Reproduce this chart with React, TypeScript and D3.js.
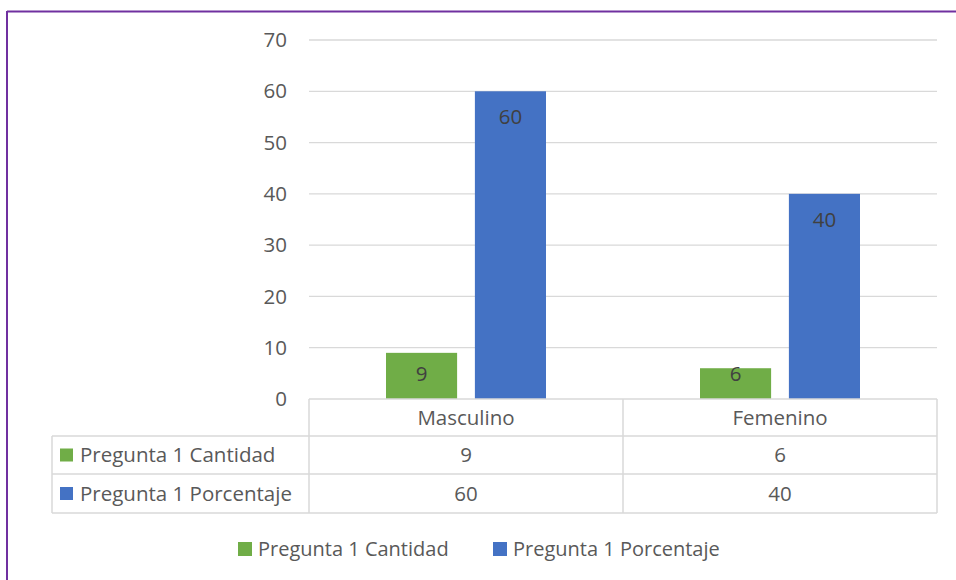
import React from "react";
import * as d3 from "d3";

const categories = ["Masculino", "Femenino"];
const seriesNames = ["Pregunta 1 Cantidad", "Pregunta 1 Porcentaje"];
const cantidad = [9, 6];
const porcentaje = [60, 40];
const yTicks = [0, 10, 20, 30, 40, 50, 60, 70];
const colors = ["#70ad47", "#4472c4"];

const W = 956;
const H = 580;
const FONT = "'Open Sans', sans-serif";
const FS = 20.5;

export default function App() {
  const series = [cantidad, porcentaje];
  const left = 309;
  const right = 937;
  const top = 40;
  const bottom = 399;
  const y = d3.scaleLinear().domain([0, 70]).range([bottom, top]);
  const x0 = d3.scaleBand<string>().domain(categories).range([left, right]).padding(0);
  const groupW = 160;
  const x1 = d3
    .scaleBand<string>()
    .domain(seriesNames)
    .range([0, groupW])
    .paddingInner(0.2)
    .paddingOuter(0);
  const bw = x0.bandwidth();
  const rowTop = [bottom, 436, 474, 513];
  const tableLeft = 52;
  const grid = "#d9d9d9";
  const txt = "#595959";

  return (
    <svg width={W} height={H} style={{ position: "absolute", left: 0, top: 0 }}>
      <rect x={0} y={0} width={W} height={H} fill="#fff" />
      {/* frame */}
      <line x1={7} y1={11.5} x2={W} y2={11.5} stroke="#7030a0" strokeWidth={2} />
      <line x1={7} y1={11} x2={7} y2={H} stroke="#7030a0" strokeWidth={2} />

      {/* gridlines */}
      {yTicks.slice(1).map((t) => (
        <line key={t} x1={left} x2={right} y1={y(t)} y2={y(t)} stroke={grid} strokeWidth={1.3} />
      ))}
      {yTicks.map((t) => (
        <text key={t} x={287} y={y(t)} dy="0.35em" textAnchor="end" fontFamily={FONT} fontSize={FS} fill={txt}>
          {t}
        </text>
      ))}

      {/* bars */}
      {categories.map((c, ci) =>
        seriesNames.map((s, si) => {
          const v = series[si][ci];
          const bx = (x0(c) as number) + (bw - groupW) / 2 + (x1(s) as number);
          const by = y(v);
          const ly = Math.min(by + 26, y(0) - 25);
          return (
            <g key={c + s}>
              <rect x={bx} y={by} width={x1.bandwidth()} height={y(0) - by} fill={colors[si]} />
              <text
                x={bx + x1.bandwidth() / 2}
                y={ly}
                dy="0.35em"
                textAnchor="middle"
                fontFamily={FONT}
                fontSize={FS}
                fill="#404040"
              >
                {v}
              </text>
            </g>
          );
        })
      )}

      {/* data table */}
      <g stroke={grid} strokeWidth={1.5} fill="none">
        <line x1={left} x2={right} y1={rowTop[0]} y2={rowTop[0]} />
        {rowTop.slice(1).map((ry) => (
          <line key={ry} x1={tableLeft} x2={right} y1={ry} y2={ry} />
        ))}
        <line x1={tableLeft} x2={tableLeft} y1={rowTop[1]} y2={rowTop[3]} />
        {[left, left + bw, right].map((vx) => (
          <line key={vx} x1={vx} x2={vx} y1={rowTop[0]} y2={rowTop[3]} />
        ))}
      </g>
      {categories.map((c) => (
        <text
          key={c}
          x={(x0(c) as number) + bw / 2}
          y={(rowTop[0] + rowTop[1]) / 2}
          dy="0.35em"
          textAnchor="middle"
          fontFamily={FONT}
          fontSize={FS}
          fill={txt}
        >
          {c}
        </text>
      ))}
      {seriesNames.map((s, si) => {
        const cy = (rowTop[si + 1] + rowTop[si + 2]) / 2;
        return (
          <g key={s}>
            <rect x={60} y={cy - 6.5} width={13} height={13} fill={colors[si]} />
            <text x={80} y={cy} dy="0.35em" fontFamily={FONT} fontSize={FS} fill={txt}>
              {s}
            </text>
            {categories.map((c, ci) => (
              <text
                key={c}
                x={(x0(c) as number) + bw / 2}
                y={cy}
                dy="0.35em"
                textAnchor="middle"
                fontFamily={FONT}
                fontSize={FS}
                fill={txt}
              >
                {series[si][ci]}
              </text>
            ))}
          </g>
        );
      })}

      {/* legend */}
      {seriesNames.map((s, si) => {
        const lx = [238, 493][si];
        return (
          <g key={s}>
            <rect x={lx} y={542} width={14} height={14} fill={colors[si]} />
            <text x={lx + 20} y={549} dy="0.35em" fontFamily={FONT} fontSize={20} fill={txt}>
              {s}
            </text>
          </g>
        );
      })}
    </svg>
  );
}
